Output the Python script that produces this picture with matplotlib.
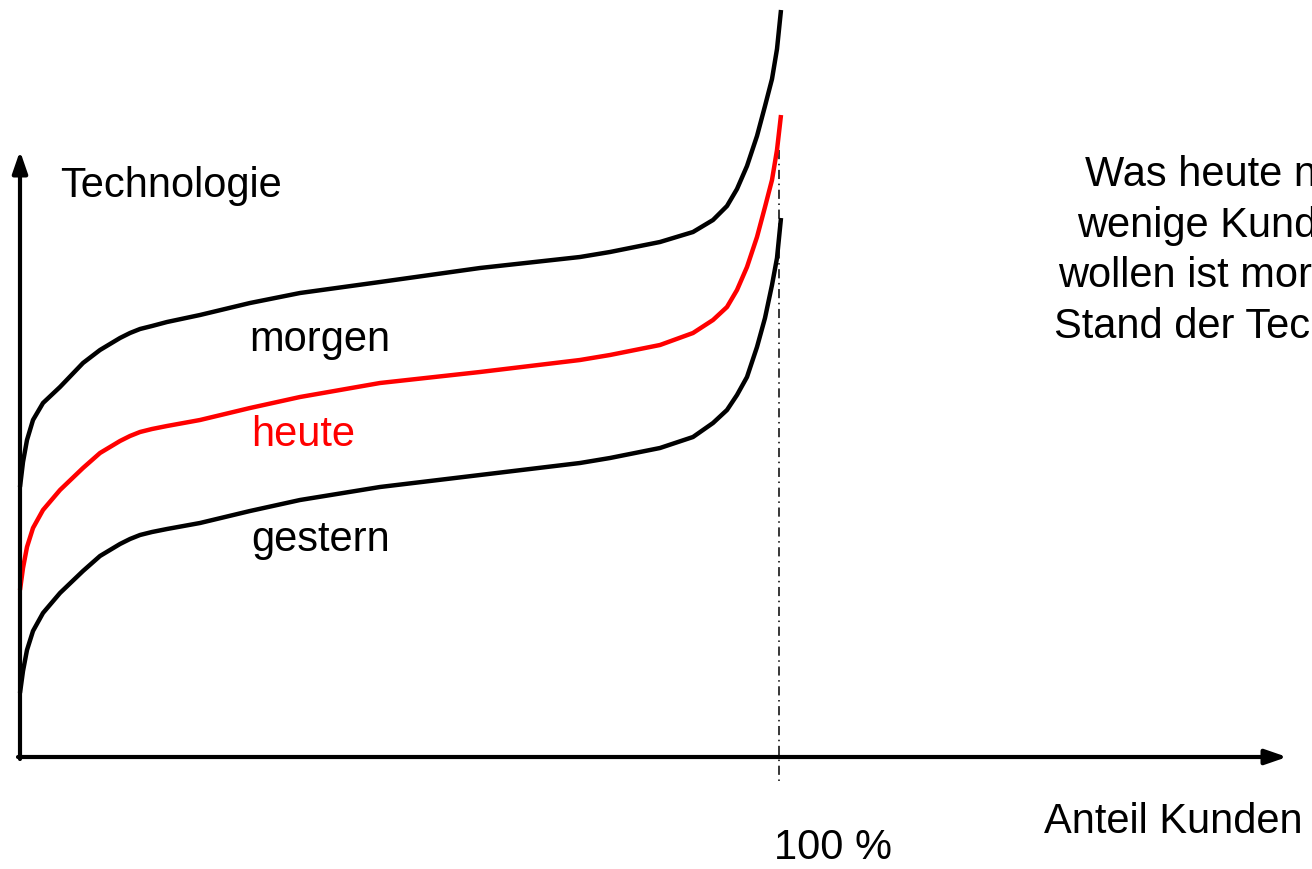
import matplotlib.pyplot as plt
from matplotlib import rcParams

rcParams['font.family'] = ['Liberation Sans', 'DejaVu Sans']

# Kurvenpunkte (Pixelkoordinaten der Vorlage, y nach unten)
x_pts = [20, 23, 27, 33, 43, 60, 83, 100, 120, 130, 140, 152, 167, 200, 250, 300, 380, 480, 580,
         610, 660, 693, 713, 727, 737, 747, 757, 765, 772, 777, 781]
y_morgen = [487, 462, 440, 420, 403, 387, 363, 350, 338, 333, 329, 326, 322, 315, 303, 293, 282, 268, 257,
            252, 242, 232, 220, 206, 189, 166, 136, 106, 79, 49, 10]
y_heute = [590, 568, 547, 528, 510, 490, 468, 453, 441, 436, 432, 429, 426, 420, 408, 397, 383, 372, 360,
           355, 345, 333, 320, 307, 290, 267, 237, 207, 180, 150, 115]
y_gestern = [693, 671, 650, 631, 613, 593, 571, 556, 544, 539, 535, 532, 529, 523, 511, 500, 487, 475, 463,
             458, 448, 437, 423, 410, 395, 377, 347, 318, 285, 258, 218]

fig = plt.figure(figsize=(13.12, 8.69), dpi=100)
ax = fig.add_axes([0, 0, 1, 1])
ax.set_xlim(0, 1312)
ax.set_ylim(869, 0)
ax.axis('off')

# Achsen mit Pfeilen
pfeil = dict(arrowstyle='-|>,head_length=1.3,head_width=0.45', lw=3, color='black',
             shrinkA=0, shrinkB=0)
ax.annotate('', xy=(20, 151), xytext=(20, 759), arrowprops=pfeil)
ax.annotate('', xy=(1287, 757), xytext=(18, 757), arrowprops=pfeil)

# 100 % Linie
ax.plot([779, 779], [150, 782], color='black', lw=1.1, linestyle=(0, (6, 3, 1, 3)))

for y_werte, farbe in [(y_morgen, 'black'), (y_heute, '#ff0000'), (y_gestern, 'black')]:
    ax.plot(x_pts, y_werte, color=farbe, lw=3.2, solid_capstyle='butt', solid_joinstyle='round')

fs = 30
ax.text(60, 186, 'Technologie', fontsize=fs, va='center', ha='left')
ax.text(249, 340, 'morgen', fontsize=fs, va='center', ha='left')
ax.text(251, 435, 'heute', fontsize=fs, va='center', ha='left', color='#ff0000')
ax.text(251, 540, 'gestern', fontsize=fs, va='center', ha='left')
ax.text(774, 848, '100 %', fontsize=fs, va='center', ha='left')
ax.text(1044, 822, 'Anteil Kunden', fontsize=fs, va='center', ha='left')
ax.text(1220, 251, 'Was heute nur\nwenige Kunden\nwollen ist morgen\nStand der Technik',
        fontsize=fs, va='center', ha='center', linespacing=1.34, clip_on=False)

fig.savefig('out.png', dpi=100)
